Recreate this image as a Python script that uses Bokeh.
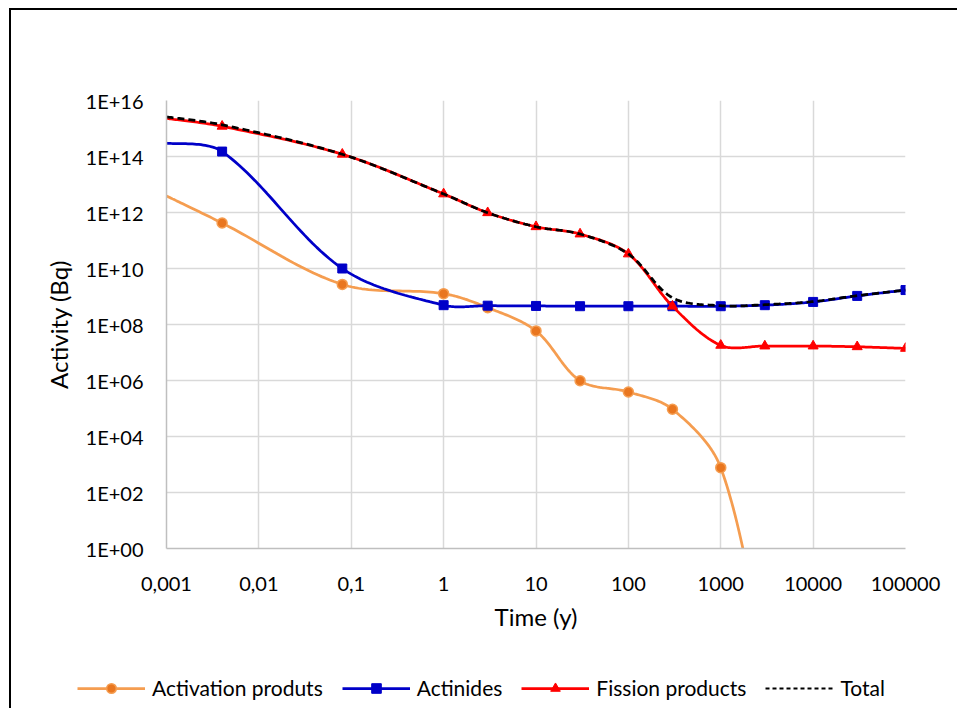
import numpy as np
from bokeh.plotting import figure
from bokeh.models import Range1d, FixedTicker, CustomJSTickFormatter, Legend, LegendItem
from bokeh.embed import file_html
from bokeh.resources import INLINE

# ---- data ----
time_y = [0.001, 0.004, 0.08, 1, 3, 10, 30, 100, 300, 1000, 3000, 10000, 30000, 100000]
activation = [3.9e12, 4.2e11, 2.7e9, 1.26e9, 4.0e8, 5.9e7, 9.8e5, 3.9e5, 9.4e4, 7.7e2, 1e-4]
actinides = [3.0e14, 1.5e14, 1.0e10, 4.9e8, 4.7e8, 4.6e8, 4.5e8, 4.5e8, 4.5e8, 4.5e8, 4.9e8, 6.4e8, 1.05e9, 1.7e9]
fission = [2.3e15, 1.2e15, 1.2e14, 4.6e12, 9.8e11, 3.1e11, 1.7e11, 3.3e10, 4.5e8, 1.8e7, 1.7e7, 1.7e7, 1.6e7, 1.4e7]
total = [2.6e15, 1.35e15, 1.2e14, 4.6e12, 9.8e11, 3.1e11, 1.7e11, 3.3e10, 9.0e8, 4.7e8, 5.1e8, 6.6e8, 1.07e9, 1.7e9]

series_names = ["Activation produts", "Actinides", "Fission products", "Total"]
x_ticks = [0.001, 0.01, 0.1, 1, 10, 100, 1000, 10000, 100000]
y_ticks = [1e0, 1e2, 1e4, 1e6, 1e8, 1e10, 1e12, 1e14, 1e16]

FONT = "Lato"
FRAME_W, FRAME_H = 739, 448
PX_X = FRAME_W / 8.0    # pixels per decade (x) - used only for the smoothing shape
PX_Y = FRAME_H / 16.0   # pixels per decade (y)

ORANGE_LINE = "#F59D50"
ORANGE_FILL = "#E9761F"
BLUE = "#0000C8"
RED = "#FF0000"
LW = 2.75


def smooth(xs, ys, n=30):
    """Excel-like smoothed line: cubic Bezier through the points, with control
    distances weighted by neighbouring segment lengths (in display space)."""
    P = np.column_stack([np.log10(xs) * PX_X, np.log10(ys) * PX_Y])
    m = len(P)
    out = [P[0]]
    t = np.linspace(0, 1, n + 1)[1:, None]
    for i in range(m - 1):
        p0 = P[i - 1] if i > 0 else P[i]
        p1, p2 = P[i], P[i + 1]
        p3 = P[i + 2] if i + 2 < m else P[i + 1]
        d01 = np.linalg.norm(p1 - p0)
        d12 = np.linalg.norm(p2 - p1)
        d23 = np.linalg.norm(p3 - p2)
        f1 = d12 / (3.0 * (d01 + d12)) if d01 > 0 else 1 / 6.0
        f2 = d12 / (3.0 * (d12 + d23)) if d23 > 0 else 1 / 6.0
        c1 = p1 + (p2 - p0) * f1
        c2 = p2 - (p3 - p1) * f2
        B = (1 - t) ** 3 * p1 + 3 * (1 - t) ** 2 * t * c1 + 3 * (1 - t) * t ** 2 * c2 + t ** 3 * p2
        out.extend(B)
    out = np.array(out)
    return 10 ** (out[:, 0] / PX_X), 10 ** (out[:, 1] / PX_Y)


p = figure(frame_width=FRAME_W, frame_height=FRAME_H, x_axis_type="log", y_axis_type="log",
           x_range=Range1d(1e-3, 1e5), y_range=Range1d(1, 1e16),
           output_backend="svg", toolbar_location=None,
           min_border_left=155, min_border_right=52, min_border_top=90, min_border_bottom=110)
p.styles = {"margin-left": "9px", "margin-top": "8px",
            "border-left": "2px solid black", "border-top": "2px solid black"}
p.outline_line_color = None
p.background_fill_color = "white"
p.border_fill_color = "white"

# axes
p.xaxis.ticker = FixedTicker(ticks=x_ticks)
p.yaxis.ticker = FixedTicker(ticks=y_ticks)
p.xaxis.formatter = CustomJSTickFormatter(code="""
const e = Math.round(Math.log10(tick));
if (e < 0) { return "0," + "0".repeat(-e - 1) + "1"; }
return "1" + "0".repeat(e);
""")
p.yaxis.formatter = CustomJSTickFormatter(code="""
const e = Math.round(Math.log10(tick));
return "1E+" + (e < 10 ? "0" : "") + e;
""")
for ax in (p.xaxis, p.yaxis):
    ax.major_tick_line_color = None
    ax.minor_tick_line_color = None
    ax.axis_line_color = "#BFBFBF"
    ax.axis_line_width = 1.5
    ax.major_label_text_font = FONT
    ax.major_label_text_font_size = "20px"
    ax.major_label_text_color = "black"
    ax.axis_label_text_font = FONT
    ax.axis_label_text_font_size = "24px"
    ax.axis_label_text_font_style = "normal"
    ax.axis_label_text_color = "black"
p.xaxis.axis_label = "Time (y)"
p.yaxis.axis_label = "Activity (Bq)"
p.xaxis.major_label_standoff = 22
p.xaxis.axis_label_standoff = 8
p.yaxis.major_label_standoff = 17
p.yaxis.axis_label_standoff = 10

p.xgrid.grid_line_color = "#D9D9D9"
p.ygrid.grid_line_color = "#D9D9D9"
p.xgrid.grid_line_width = 1.5
p.ygrid.grid_line_width = 1.5

# series
sx, sy = smooth(time_y[:len(activation)], activation)
p.line(sx, sy, line_color=ORANGE_LINE, line_width=LW)
p.scatter(time_y[1:len(activation)], activation[1:], marker="circle", size=10,
          fill_color=ORANGE_FILL, line_color=ORANGE_LINE, line_width=1.5)

sx, sy = smooth(time_y, actinides)
p.line(sx, sy, line_color=BLUE, line_width=LW)
p.scatter(time_y[1:], actinides[1:], marker="square", size=9, fill_color=BLUE, line_color=BLUE)

sx, sy = smooth(time_y, fission)
p.line(sx, sy, line_color=RED, line_width=LW)
p.scatter(time_y[1:], fission[1:], marker="triangle", size=10, fill_color=RED, line_color=RED)

sx, sy = smooth(time_y, total)
p.line(sx, sy, line_color="black", line_width=LW, line_dash="7 4")

# ---- legend strip below the chart: a separate root, legend proxies kept off-range ----
pl = figure(width=946, height=50, x_range=Range1d(0, 1), y_range=Range1d(0, 1),
            output_backend="svg", toolbar_location=None,
            x_axis_location=None, y_axis_location=None, min_border=0)
pl.styles = {"margin-left": "9px", "border-left": "2px solid black", "padding-bottom": "8px"}
pl.outline_line_color = None
pl.grid.visible = False
pl.background_fill_color = "white"
pl.border_fill_color = "white"

px, py = [-3, -2], [-3, -2]
r1l = pl.line(px, py, line_color=ORANGE_LINE, line_width=LW)
r1m = pl.scatter(px, py, marker="circle", size=10, fill_color=ORANGE_FILL,
                 line_color=ORANGE_LINE, line_width=1.5)
r2l = pl.line(px, py, line_color=BLUE, line_width=LW)
r2m = pl.scatter(px, py, marker="square", size=9, fill_color=BLUE, line_color=BLUE)
r3l = pl.line(px, py, line_color=RED, line_width=LW)
r3m = pl.scatter(px, py, marker="triangle", size=10, fill_color=RED, line_color=RED)
r4l = pl.line(px, py, line_color="black", line_width=2.0, line_dash="4 3")

legend = Legend(items=[
    LegendItem(label=series_names[0], renderers=[r1l, r1m]),
    LegendItem(label=series_names[1], renderers=[r2l, r2m]),
    LegendItem(label=series_names[2], renderers=[r3l, r3m]),
    LegendItem(label=series_names[3], renderers=[r4l]),
], orientation="horizontal", location=(66, 8))
legend.label_text_font = FONT
legend.label_text_font_size = "21px"
legend.label_text_color = "black"
legend.glyph_width = 68
legend.glyph_height = 24
legend.label_height = 24
legend.label_standoff = 7
legend.spacing = 19
legend.border_line_color = None
legend.background_fill_alpha = 0
legend.padding = 0
legend.margin = 0
pl.add_layout(legend, "center")

open("out.html", "w").write(file_html([p, pl], INLINE))
